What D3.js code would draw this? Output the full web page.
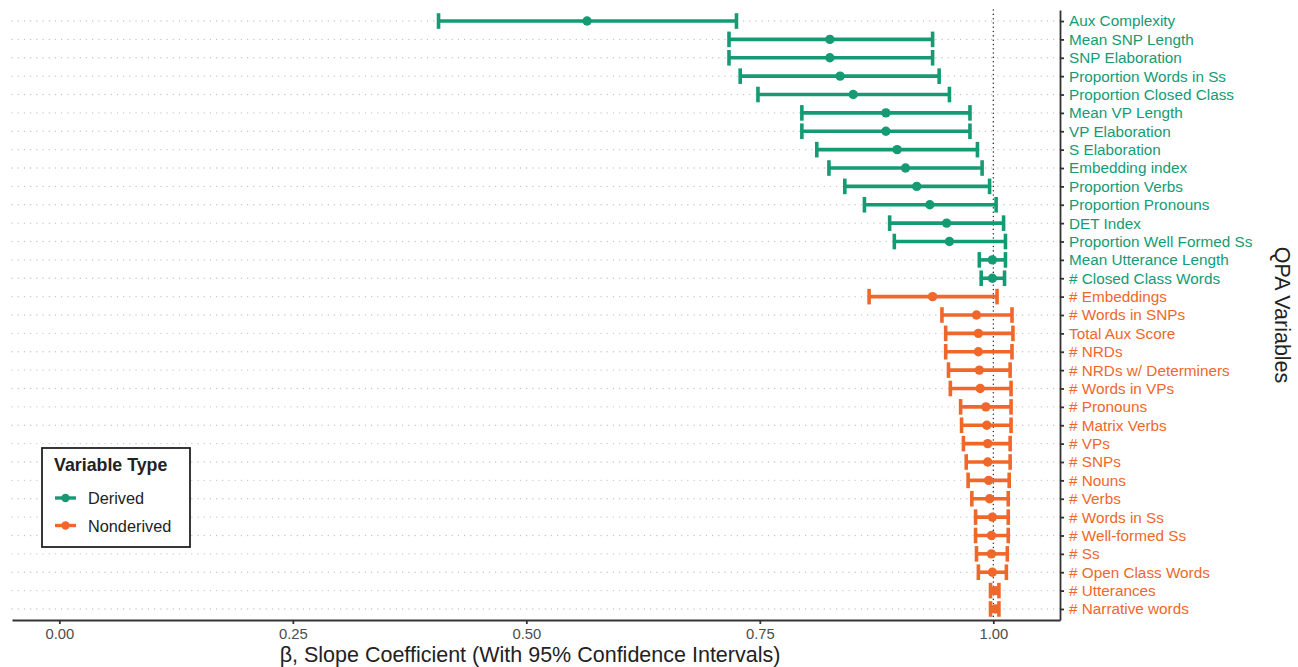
<!DOCTYPE html>
<html>
<head>
<meta charset="utf-8">
<script src="https://cdn.jsdelivr.net/npm/d3@7"></script>
<style>
  html, body { margin: 0; padding: 0; background: #fff; }
  svg { display: block; font-family: "Liberation Sans", Arial, Helvetica, sans-serif; }
</style>
</head>
<body>
<svg id="chart" width="1298" height="667"></svg>
<script>
// QPA variables, top to bottom
const variables = [
  "Aux Complexity", "Mean SNP Length", "SNP Elaboration", "Proportion Words in Ss",
  "Proportion Closed Class", "Mean VP Length", "VP Elaboration", "S Elaboration",
  "Embedding index", "Proportion Verbs", "Proportion Pronouns", "DET Index",
  "Proportion Well Formed Ss", "Mean Utterance Length", "# Closed Class Words",
  "# Embeddings", "# Words in SNPs", "Total Aux Score", "# NRDs", "# NRDs w/ Determiners",
  "# Words in VPs", "# Pronouns", "# Matrix Verbs", "# VPs", "# SNPs", "# Nouns",
  "# Verbs", "# Words in Ss", "# Well-formed Ss", "# Ss", "# Open Class Words",
  "# Utterances", "# Narrative words"
];
const variableType = [
  "Derived", "Derived", "Derived", "Derived", "Derived", "Derived", "Derived", "Derived",
  "Derived", "Derived", "Derived", "Derived", "Derived", "Derived", "Derived",
  "Nonderived", "Nonderived", "Nonderived", "Nonderived", "Nonderived", "Nonderived",
  "Nonderived", "Nonderived", "Nonderived", "Nonderived", "Nonderived", "Nonderived",
  "Nonderived", "Nonderived", "Nonderived", "Nonderived", "Nonderived", "Nonderived"
];
// slope estimates and 95% confidence limits
const beta = [
  0.565, 0.825, 0.825, 0.836, 0.850, 0.885, 0.885, 0.897, 0.906, 0.918, 0.932, 0.950,
  0.953, 0.999, 0.999, 0.935, 0.982, 0.984, 0.984, 0.985, 0.986, 0.992, 0.993, 0.994,
  0.994, 0.995, 0.996, 0.999, 0.998, 0.998, 0.999, 1.002, 1.002
];
const ciLow = [
  0.406, 0.717, 0.717, 0.729, 0.748, 0.795, 0.795, 0.811, 0.824, 0.841, 0.862, 0.889,
  0.894, 0.985, 0.987, 0.867, 0.945, 0.949, 0.949, 0.952, 0.954, 0.965, 0.966, 0.968,
  0.971, 0.973, 0.977, 0.981, 0.981, 0.982, 0.984, 0.997, 0.997
];
const ciHigh = [
  0.725, 0.935, 0.935, 0.942, 0.953, 0.975, 0.975, 0.983, 0.988, 0.996, 1.003, 1.011,
  1.013, 1.013, 1.012, 1.004, 1.020, 1.021, 1.020, 1.018, 1.019, 1.019, 1.019, 1.018,
  1.018, 1.017, 1.016, 1.016, 1.016, 1.015, 1.014, 1.006, 1.006
];
const xTicks = [0, 0.25, 0.5, 0.75, 1.0];
const typeNames = ["Derived", "Nonderived"];
const typeColors = ["#149b74", "#f0672c"];

const rows = variables.map((v, i) => ({
  name: v, type: variableType[i], beta: beta[i], lo: ciLow[i], hi: ciHigh[i]
}));

const svg = d3.select("#chart");
const panel = { left: 12, right: 1060, top: 10, bottom: 620 };
const fontFamily = "Liberation Sans, Arial, sans-serif";

const x = d3.scaleLinear().domain([-0.0507, 1.0714]).range([panel.left, panel.right]);
const y = d3.scalePoint().domain(variables).range([panel.top, panel.bottom]).padding(0.6);
const color = d3.scaleOrdinal().domain(typeNames).range(typeColors);

// horizontal dotted guides
svg.append("g").selectAll("line").data(variables).join("line")
  .attr("x1", panel.left).attr("x2", panel.right)
  .attr("y1", d => y(d)).attr("y2", d => y(d))
  .attr("stroke", "#c4c4c4").attr("stroke-width", 1.3)
  .attr("stroke-linecap", "round")
  .attr("stroke-dasharray", "0.1 6.1");

// reference line at beta = 1
svg.append("line")
  .attr("x1", x(1)).attr("x2", x(1)).attr("y1", panel.top).attr("y2", panel.bottom)
  .attr("stroke", "#222").attr("stroke-width", 1.4)
  .attr("stroke-linecap", "round")
  .attr("stroke-dasharray", "0.1 4.2");

// confidence intervals
const capH = 7.8;
const bars = svg.append("g").selectAll("g").data(rows).join("g")
  .attr("stroke", d => color(d.type)).attr("fill", d => color(d.type));
bars.append("line")
  .attr("x1", d => x(d.lo)).attr("x2", d => x(d.hi))
  .attr("y1", d => y(d.name)).attr("y2", d => y(d.name))
  .attr("stroke-width", 3.6);
bars.append("line")
  .attr("x1", d => x(d.lo)).attr("x2", d => x(d.lo))
  .attr("y1", d => y(d.name) - capH).attr("y2", d => y(d.name) + capH)
  .attr("stroke-width", 3.6);
bars.append("line")
  .attr("x1", d => x(d.hi)).attr("x2", d => x(d.hi))
  .attr("y1", d => y(d.name) - capH).attr("y2", d => y(d.name) + capH)
  .attr("stroke-width", 3.6);
bars.append("circle")
  .attr("cx", d => x(d.beta)).attr("cy", d => y(d.name))
  .attr("r", 4.7).attr("stroke", "none");

// bottom axis
const xAxis = svg.append("g").attr("transform", `translate(0,${panel.bottom})`)
  .call(d3.axisBottom(x).tickValues(xTicks).tickFormat(d3.format(".2f"))
    .tickSizeInner(4).tickSizeOuter(0).tickPadding(4));
xAxis.select(".domain").attr("stroke", "#333").attr("stroke-width", 1.8);
xAxis.selectAll(".tick line").attr("stroke", "#333").attr("stroke-width", 1.8);
xAxis.selectAll(".tick text").attr("fill", "#4d4d4d").attr("font-size", 14.8)
  .attr("font-family", fontFamily);

// right axis with coloured labels
const yAxis = svg.append("g").attr("transform", `translate(${panel.right},0)`)
  .call(d3.axisRight(y).tickSizeInner(4).tickSizeOuter(0).tickPadding(5));
yAxis.select(".domain").attr("stroke", "#333").attr("stroke-width", 1.8);
yAxis.selectAll(".tick line").attr("stroke", "#333").attr("stroke-width", 1.8);
yAxis.selectAll(".tick text")
  .attr("fill", d => color(variableType[variables.indexOf(d)]))
  .attr("font-size", 15.3)
  .attr("font-family", fontFamily);

// axis titles
svg.append("text")
  .attr("x", 530).attr("y", 662)
  .attr("text-anchor", "middle").attr("font-size", 21.5).attr("fill", "#222")
  .text("β, Slope Coefficient (With 95% Confidence Intervals)");
svg.append("text")
  .attr("transform", `translate(1275,${(panel.top + panel.bottom) / 2}) rotate(90)`)
  .attr("text-anchor", "middle").attr("font-size", 21.5).attr("fill", "#222")
  .text("QPA Variables");

// legend
const lg = svg.append("g").attr("transform", "translate(42,448)");
lg.append("rect").attr("width", 148).attr("height", 99)
  .attr("fill", "#fff").attr("stroke", "#222").attr("stroke-width", 1.8);
lg.append("text").attr("x", 12).attr("y", 23)
  .attr("font-size", 17.8).attr("font-weight", "bold").attr("fill", "#222")
  .text("Variable Type");
const items = lg.selectAll("g.key").data(typeNames).join("g")
  .attr("class", "key")
  .attr("transform", (d, i) => `translate(0,${50 + i * 27.5})`);
items.append("line").attr("x1", 13).attr("x2", 34).attr("y1", 0).attr("y2", 0)
  .attr("stroke", d => color(d)).attr("stroke-width", 3.4);
items.append("circle").attr("cx", 23.5).attr("cy", 0).attr("r", 4.2)
  .attr("fill", d => color(d));
items.append("text").attr("x", 46).attr("y", 6.3)
  .attr("font-size", 16.3).attr("fill", "#222").text(d => d);
</script>
</body>
</html>
